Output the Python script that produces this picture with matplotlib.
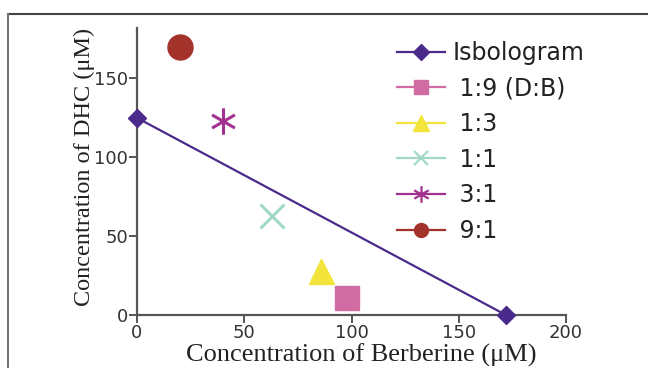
import matplotlib
matplotlib.use("Agg")
import matplotlib.pyplot as plt
from matplotlib.lines import Line2D
from matplotlib.path import Path
import numpy as np

# Data
iso_x = [0, 172]
iso_y = [125, 0]
points_labels = [" 1:9 (D:B)", " 1:3", " 1:1", " 3:1", " 9:1"]
points_x = [98, 86, 63, 40, 20]
points_y = [11, 28, 63, 123, 170]
colors = ["#D06CA2", "#F2E43A", "#A2D9C6", "#A2318F", "#A3322A"]
xticks = [0, 50, 100, 150, 200]
yticks = [0, 50, 100, 150]

# asterisk marker path (6 arms)
verts, codes = [], []
for ang in [90, 30, -30]:
    a = np.deg2rad(ang)
    verts += [(-np.cos(a), -np.sin(a)), (np.cos(a), np.sin(a))]
    codes += [Path.MOVETO, Path.LINETO]
ast = Path(verts, codes)

markers = ["s", "^", "x", ast, "o"]
sizes = [17, 18, 17, 19, 18]
leg_sizes = [10, 11, 10, 12, 10]

fig = plt.figure(figsize=(6.48, 3.68), dpi=100)
ax = fig.add_axes([137/648, 1-315/368, (566-137)/648, (315-28)/368])

tickfont = "DejaVu Sans"
labfont = "Liberation Serif"

ax.plot(iso_x, iso_y, color="#4A2A8A", lw=1.6, marker="D", ms=9, zorder=3,
        clip_on=False)

for x, y, m, c, s in zip(points_x, points_y, markers, colors, sizes):
    if m == "x" or m is ast:
        ax.plot([x], [y], ls="none", marker=m, ms=s, mew=2.2, color=c, clip_on=False)
    else:
        ax.plot([x], [y], ls="none", marker=m, ms=s, color=c, clip_on=False)

ax.set_xlim(0, 200)
ax.set_ylim(0, 182)
ax.set_xticks(xticks)
ax.set_yticks(yticks)
for sp in ["top", "right"]:
    ax.spines[sp].set_visible(False)
for sp in ["left", "bottom"]:
    ax.spines[sp].set_color("#555555")
    ax.spines[sp].set_linewidth(1.6)
ax.tick_params(direction="out", length=6, width=1.4, color="#555555", pad=0.5,
               labelsize=13, labelcolor="#333333")
for t in ax.get_xticklabels() + ax.get_yticklabels():
    t.set_family(tickfont)

fig.text(361/648, 1-355/368, "Concentration of Berberine (\u03bcM)", fontsize=19,
         family=labfont, color="#222222", ha="center", va="center")
fig.text(84/648, 1-167/368, "Concentration of DHC (\u03bcM)", fontsize=17.5,
         family=labfont, color="#222222", ha="center", va="center", rotation=90)

handles = [Line2D([], [], color="#4A2A8A", lw=1.6, marker="D", ms=8)]
for m, c, s in zip(markers, colors, leg_sizes):
    if m == "x" or m is ast:
        handles.append(Line2D([], [], color=c, lw=1.6, marker=m, ms=s, mew=1.6))
    else:
        handles.append(Line2D([], [], color=c, lw=1.6, marker=m, ms=s))
labels = ["Isbologram"] + points_labels
leg = fig.legend(handles, labels, loc="upper left",
                 bbox_to_anchor=(397/648, 1-41/368), frameon=False,
                 prop={"family": tickfont, "size": 17}, handlelength=2.05,
                 handletextpad=0.3, labelspacing=0.49, borderpad=0,
                 borderaxespad=0)
for t in leg.get_texts():
    t.set_color("#222222")

# figure frame (top and left edges)
fig.add_artist(Line2D([8/648, 1], [1-14/368, 1-14/368], color="#444444", lw=1.5,
                      transform=fig.transFigure))
fig.add_artist(Line2D([8/648, 8/648], [0, 1-14/368], color="#777777", lw=1.5,
                      transform=fig.transFigure))

fig.savefig("out.png", dpi=100)
